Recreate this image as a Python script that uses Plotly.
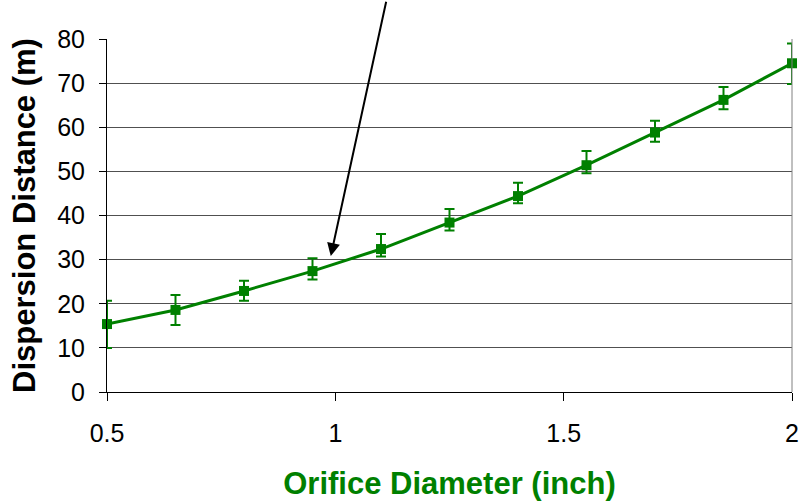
import plotly.graph_objects as go

diameter = [0.5, 0.65, 0.8, 0.95, 1.1, 1.25, 1.4, 1.55, 1.7, 1.85, 2.0]
distance = [15.4, 18.6, 22.9, 27.4, 32.4, 38.4, 44.4, 51.4, 58.8, 66.2, 74.5]
err_upper = [20.7, 22.0, 25.2, 30.3, 35.8, 41.5, 47.4, 54.6, 61.5, 69.1, 79.0]
err_lower = [10.0, 15.2, 20.7, 25.5, 30.7, 36.6, 42.8, 49.6, 56.7, 64.1, 69.8]

plus = [u - v for u, v in zip(err_upper, distance)]
minus = [v - l for v, l in zip(distance, err_lower)]

green = "#008000"

fig = go.Figure()
fig.add_trace(go.Scatter(
    x=diameter, y=distance, mode="lines+markers",
    line=dict(color=green, width=3),
    marker=dict(symbol="square", size=10, color=green),
    error_y=dict(type="data", symmetric=False, array=plus, arrayminus=minus,
                 color=green, thickness=2, width=5),
    cliponaxis=False, showlegend=False,
))

fig.add_annotation(
    x=0.99, y=30.8, ax=1.112, ay=88.8, xref="x", yref="y", axref="x", ayref="y",
    text="", showarrow=True, arrowhead=2, arrowsize=1.3, arrowwidth=2, arrowcolor="black",
)

fig.add_shape(type="line", xref="paper", yref="paper", x0=1, x1=1, y0=0, y1=1,
              line=dict(color="#808080", width=1))

fig.update_layout(
    width=801, height=502,
    margin=dict(l=107, r=9, t=39, b=110),
    paper_bgcolor="white", plot_bgcolor="white",
    font=dict(family="Arial, Liberation Sans, sans-serif", color="black"),
    xaxis=dict(
        range=[0.5, 2.0], tickvals=[0.5, 1, 1.5, 2], ticktext=["0.5", "1", "1.5", "2"],
        showgrid=False, zeroline=False, showline=True, linecolor="black", linewidth=1,
        ticks="outside", ticklen=8, tickcolor="black", tickfont=dict(size=25),
        ticklabelstandoff=11, automargin=False,
        title=dict(text="<b>Orifice Diameter (inch)</b>", font=dict(size=31, color=green), standoff=26),
    ),
    yaxis=dict(
        range=[0, 80], dtick=10, showgrid=True, gridcolor="#505050", gridwidth=1,
        zeroline=False, showline=True, linecolor="black", linewidth=1,
        ticks="outside", ticklen=7, tickcolor="black", tickfont=dict(size=25),
        ticklabelstandoff=9, automargin=False,
        title=dict(text="<b>Dispersion Distance (m)</b>", font=dict(size=31, color="black"), standoff=12),
    ),
)

fig.write_html("out.html")
